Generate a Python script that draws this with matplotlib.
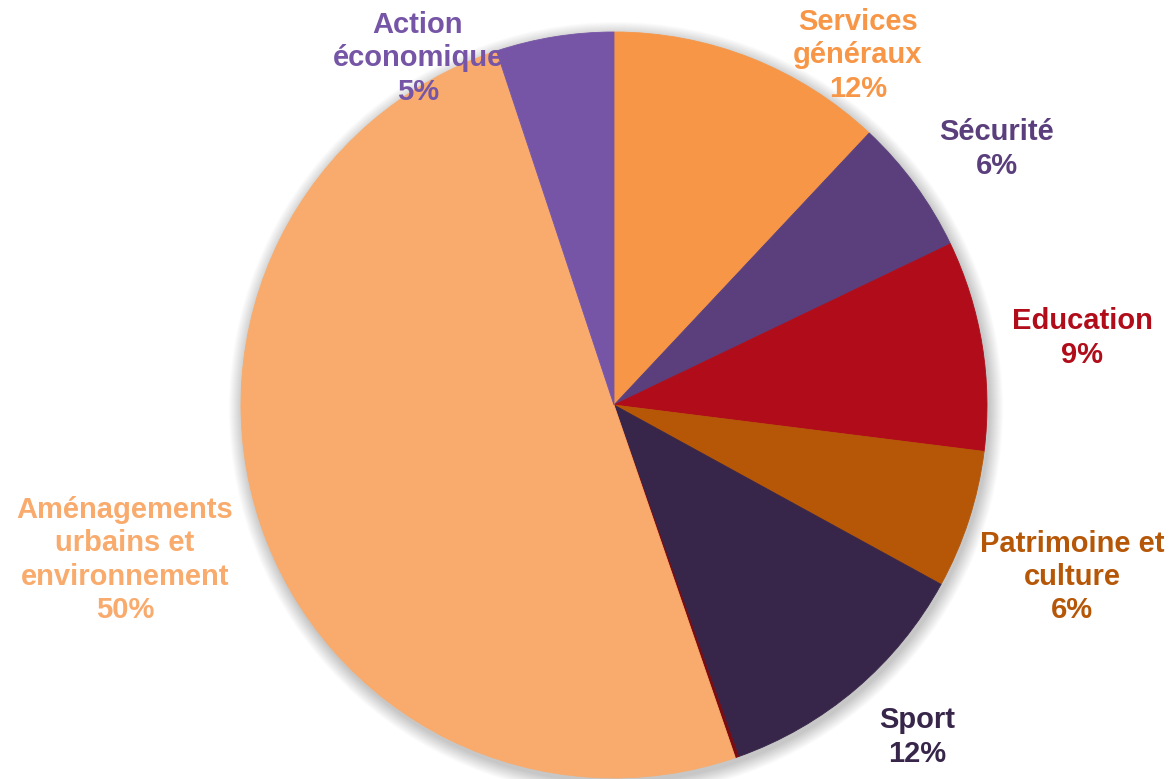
import matplotlib
matplotlib.use("Agg")
import matplotlib.pyplot as plt
from matplotlib.patches import Circle

# slices clockwise from 12 o'clock
categories = [
    "Services\ngénéraux",
    "Sécurité",
    "Education",
    "Patrimoine et\nculture",
    "Sport",
    "",
    "Aménagements\nurbains et\nenvironnement",
    "Action\néconomique",
]
shares = [12.0, 5.9, 9.1, 6.0, 11.6, 0.15, 50.2, 5.1]
colors = ["#F79646", "#5A3F7C", "#B00C19", "#B65708", "#37264A", "#7A0B10", "#F8AB6C", "#7655A6"]
label_colors = ["#F79646", "#5A3F7C", "#B00C19", "#B65708", "#37264A", "#7A0B10", "#F8AB6C", "#7655A6"]
# label centres in pixel coords (x from left, y from top)
label_pos = [(858, 55), (997, 149), (1082, 338), (1072, 577), (917, 737), None, (125, 560), (418, 58)]

W, H = 1169, 779
cx, cy, r = 614, H - 405, 373

fig = plt.figure(figsize=(W / 100, H / 100), dpi=100)
ax = fig.add_axes([0, 0, 1, 1])
ax.set_xlim(0, W)
ax.set_ylim(0, H)
ax.set_aspect("equal")
ax.axis("off")

# soft shadow round the pie
for k in range(14):
    ax.add_patch(Circle((cx + 2, cy - 4), r + 14 - k, facecolor="#000000",
                        edgecolor="none", alpha=0.016, zorder=0.2))

wedges, _ = ax.pie(shares, colors=colors, startangle=90, counterclock=False,
                   center=(cx, cy), radius=r, frame=False,
                   wedgeprops=dict(linewidth=0.6))
for w, c in zip(wedges, colors):
    w.set_edgecolor(c)
    w.set_zorder(2)
# the "Action économique" label is hidden behind its own slice in the original
wedges[-1].set_zorder(3)

for name, val, col, pos in zip(categories, shares, label_colors, label_pos):
    if pos is None:
        continue
    ax.text(pos[0], H - pos[1], f"{name}\n{val:.0f}%", ha="center", va="center",
            color=col, fontsize=21, fontweight="bold", family="Liberation Sans",
            linespacing=1.25, zorder=2.5)

ax.set_xlim(0, W)
ax.set_ylim(0, H)
fig.savefig("out.png", dpi=100)
